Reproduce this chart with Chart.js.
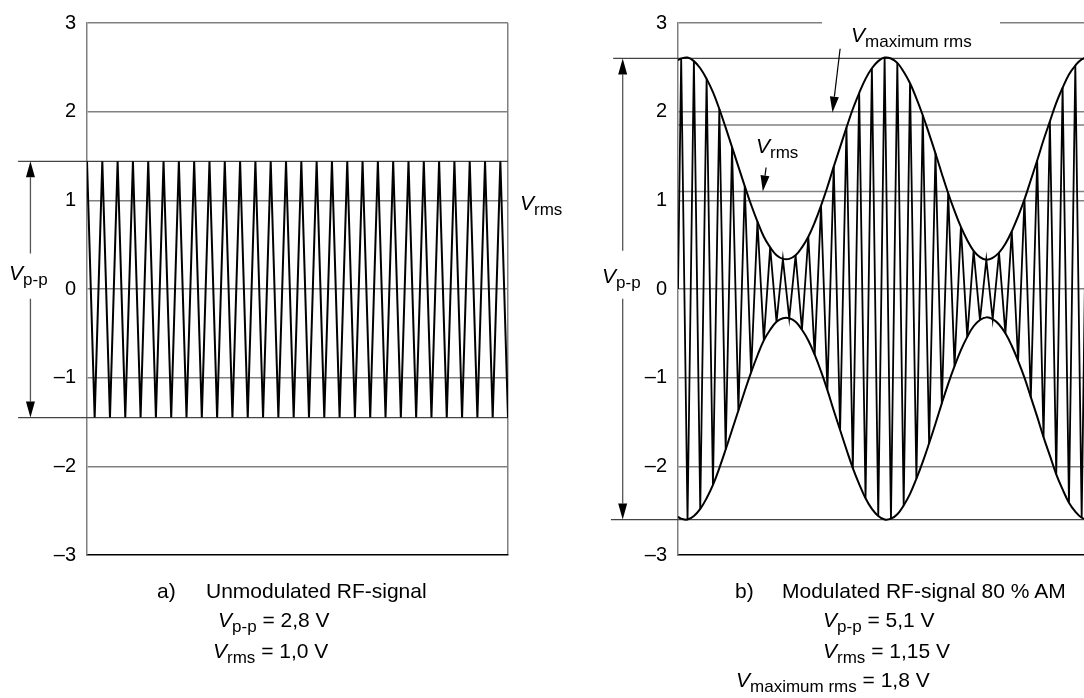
<!DOCTYPE html>
<html><head><meta charset="utf-8">
<script src="https://cdn.jsdelivr.net/npm/chart.js@4.4.1/dist/chart.umd.min.js"></script>
<style>
html,body{margin:0;padding:0;background:#fff;overflow:hidden;}
#wrap{position:relative;width:1084px;height:698px;overflow:hidden;font-family:"Liberation Sans",Arial,sans-serif;color:#000;background:#fff;}
canvas{position:absolute;top:0;}
#ca{left:0;width:540px;height:698px;}
#cb{left:540px;width:583px;height:698px;}
.t{position:absolute;font-size:21px;line-height:21px;white-space:nowrap;}
.t i{font-style:italic;}
.t sub{font-size:17px;vertical-align:-5px;line-height:0;}
#mask{position:absolute;left:822px;top:15px;width:178px;height:10px;background:#fff;}
</style></head>
<body><div id="wrap">
<canvas id="ca" width="540" height="698"></canvas>
<canvas id="cb" width="583" height="698"></canvas>
<div id="mask"></div>
<!-- chart a labels -->
<div class="t" style="left:520px;top:192px"><i>V</i><sub>rms</sub></div>
<div class="t" style="left:9px;top:262px"><i>V</i><sub>p-p</sub></div>
<div class="t" style="left:157px;top:580px">a)</div>
<div class="t" style="left:206px;top:580px">Unmodulated RF-signal</div>
<div class="t" style="left:218px;top:609px"><i>V</i><sub>p-p</sub> = 2,8 V</div>
<div class="t" style="left:213px;top:640px"><i>V</i><sub>rms</sub> = 1,0 V</div>
<!-- chart b labels -->
<div class="t" style="left:851px;top:24px"><i>V</i><sub>maximum rms</sub></div>
<div class="t" style="left:756px;top:135px"><i>V</i><sub>rms</sub></div>
<div class="t" style="left:602px;top:265px"><i>V</i><sub>p-p</sub></div>
<div class="t" style="left:735px;top:580px">b)</div>
<div class="t" style="left:782px;top:580px">Modulated RF-signal 80 % AM</div>
<div class="t" style="left:823px;top:609px"><i>V</i><sub>p-p</sub> = 5,1 V</div>
<div class="t" style="left:823px;top:640px"><i>V</i><sub>rms</sub> = 1,15 V</div>
<div class="t" style="left:736px;top:669px"><i>V</i><sub>maximum rms</sub> = 1,8 V</div>
</div>
<script>
// ---------- DATA ----------
const yTickValues = [3, 2, 1, 0, -1, -2, -3];

// a) unmodulated carrier: alternating peak / trough values, one per half period
const carrierA = [1.44,-1.45,1.44,-1.45,1.44,-1.45,1.44,-1.45,1.44,-1.45,
                  1.44,-1.45,1.44,-1.45,1.44,-1.45,1.44,-1.45,1.44,-1.45,
                  1.44,-1.45,1.44,-1.45,1.44,-1.45,1.44,-1.45,1.44,-1.45,
                  1.44,-1.45,1.44,-1.45,1.44,-1.45,1.44,-1.45,1.44,-1.45,
                  1.44,-1.45,1.44,-1.45,1.44,-1.45,1.44,-1.45,1.44,-1.45,
                  1.44,-1.45,1.44,-1.45,1.44,-1.45];
const peakA = 1.44, troughA = -1.45;

// b) modulated carrier (80 % AM)
const timesB = [0,0.5,1.5,2.5,3.5,4.5,5.5,6.5,7.5,8.5,9.5,
  10.5,11.5,12.5,13.5,14.5,15.5,16.5,17.5,18.5,19.5,
  20.5,21.5,22.5,23.5,24.5,25.5,26.5,27.5,28.5,29.5,
  30.5,31.5,32.5,33.5,34.5,35.5,36.5,37.5,38.5,39.5,
  40.5,41.5,42.5,43.5,44.5,45.5,46.5,47.5,48.5,49.5,
  50.5,51.5,52.5,53.5,54.5,55.5,56.5,57.5,58.5,59.5,
  60.5,61.5,62.5,63.5,64.5,65.5,66.5,67.5,68.5,69.5];
const carrierB = [0,
  2.60,-2.60,2.57,-2.48,2.37,-2.21,2.03,-1.81,1.60,-1.37,
  1.16,-0.94,0.76,-0.58,0.47,-0.37,0.34,-0.33,0.38,-0.46,
  0.59,-0.74,0.94,-1.14,1.38,-1.59,1.82,-2.02,2.21,-2.36,
  2.49,-2.56,2.61,-2.59,2.55,-2.44,2.32,-2.14,1.96,-1.74,
  1.53,-1.29,1.08,-0.87,0.70,-0.54,0.43,-0.35,0.33,-0.34,
  0.41,-0.50,0.65,-0.81,1.01,-1.22,1.45,-1.67,1.89,-2.09,
  2.27,-2.41,2.52,-2.58,2.61,-2.58,2.52,-2.40,2.27,-2.08];
const envTimesB = [0,0.5,1.5,2.5,3.5,4.5,5.5,6.5,7.5,8.5,9.5,
  10.5,11.5,12.5,13.5,14.5,15.5,16.5,17.5,18.5,19.5,
  20.5,21.5,22.5,23.5,24.5,25.5,26.5,27.5,28.5,29.5,
  30.5,31.5,32.5,33.5,34.5,35.5,36.5,37.5,38.5,39.5,
  40.5,41.5,42.5,43.5,44.5,45.5,46.5,47.5,48.5,49.5,
  50.5,51.5,52.5,53.5,54.5,55.5,56.5,57.5,58.5,59.5,
  60.5,61.5,62.5,63.5,64.5,65.5,66.5,67.5,68.5,69.5,70];
const envUpperB = [2.58,
  2.60,2.61,2.57,2.49,2.37,2.22,2.03,1.82,1.60,1.38,
  1.16,0.95,0.76,0.59,0.47,0.38,0.34,0.34,0.38,0.47,
  0.59,0.75,0.94,1.15,1.38,1.60,1.82,2.03,2.21,2.37,
  2.49,2.57,2.61,2.60,2.55,2.45,2.32,2.15,1.96,1.75,
  1.53,1.30,1.08,0.88,0.70,0.55,0.43,0.36,0.33,0.35,
  0.41,0.51,0.65,0.82,1.01,1.23,1.45,1.68,1.89,2.10,
  2.27,2.42,2.52,2.59,2.61,2.59,2.52,2.41,2.27,2.09,
  1.99];
const envLowerB = [-2.57,
  -2.59,-2.60,-2.56,-2.48,-2.36,-2.21,-2.02,-1.81,-1.59,-1.37,
  -1.15,-0.94,-0.75,-0.58,-0.46,-0.37,-0.33,-0.33,-0.37,-0.46,
  -0.58,-0.74,-0.93,-1.14,-1.37,-1.59,-1.81,-2.02,-2.20,-2.36,
  -2.48,-2.56,-2.60,-2.59,-2.54,-2.44,-2.31,-2.14,-1.95,-1.74,
  -1.52,-1.29,-1.07,-0.87,-0.69,-0.54,-0.42,-0.35,-0.32,-0.34,
  -0.40,-0.50,-0.64,-0.81,-1.00,-1.22,-1.44,-1.67,-1.88,-2.09,
  -2.26,-2.41,-2.51,-2.58,-2.60,-2.58,-2.51,-2.40,-2.26,-2.08,
  -1.98];
const peakB = 2.60, troughB = -2.60, rmsB = 1.10, maxRmsB = 1.85;

// reference-line start (time units, left of the plotted window) and arrows
const refStartA = -9.0;
const refStartB = [-10.2, -10.55];
const arrowsA = [
  {from:[-7.39, 0.40], to:[-7.39, peakA], color:'#555', width:1.3},
  {from:[-7.39,-0.11], to:[-7.39, troughA], color:'#555', width:1.3}
];
const arrowsB = [
  {from:[-8.7, 0.43], to:[-8.7, peakB], color:'#555', width:1.3},
  {from:[-8.7,-0.11], to:[-8.7, troughB], color:'#555', width:1.3},
  {from:[25.5, 2.71], to:[24.3, 1.99], color:'#000', width:1.2},
  {from:[13.86, 1.37], to:[13.34, rmsB], color:'#000', width:1.2}
];

// ---------- CHARTS ----------
const FONT = '"Liberation Sans", Arial, sans-serif';
const GRID = '#808080';

function arrowPlugin(items){
  return {
    id:'arrows',
    afterDatasetsDraw(chart){
      const {ctx, scales:{x, y}} = chart;
      items.forEach(a => {
        const x1 = x.getPixelForValue(a.from[0]), y1 = y.getPixelForValue(a.from[1]);
        const x2 = x.getPixelForValue(a.to[0]),   y2 = y.getPixelForValue(a.to[1]);
        const ang = Math.atan2(y2 - y1, x2 - x1), L = 16, W = 4.5;
        const bx = x2 - L*Math.cos(ang), by = y2 - L*Math.sin(ang);
        ctx.save();
        ctx.strokeStyle = a.color; ctx.lineWidth = a.width;
        ctx.beginPath(); ctx.moveTo(x1, y1); ctx.lineTo(bx, by); ctx.stroke();
        ctx.fillStyle = '#000';
        ctx.beginPath(); ctx.moveTo(x2, y2);
        ctx.lineTo(bx + W*Math.sin(ang), by - W*Math.cos(ang));
        ctx.lineTo(bx - W*Math.sin(ang), by + W*Math.cos(ang));
        ctx.closePath(); ctx.fill();
        ctx.restore();
      });
    }
  };
}

function hLine(y, x0, x1, color, width){
  return {data:[{x:x0, y:y},{x:x1, y:y}], borderColor:color, borderWidth:width,
          pointRadius:0, tension:0, clip:false, order:5};
}

function yScale(axisWidth, hideTop){
  return {
    type:'linear', min:-3, max:3,
    afterBuildTicks(s){ s.ticks = yTickValues.map(v => ({value:v})); },
    afterFit(s){ s.width = axisWidth; },
    ticks:{color:'#000', padding:11, font:{family:FONT, size:20},
           callback:v => v < 0 ? '\u2013' + (-v) : String(v)},
    grid:{drawTicks:false, lineWidth:1.5,
          color:c => (c.tick && c.tick.value === -3) ? 'rgba(0,0,0,0)' : GRID},
    border:{color:GRID, width:1.5}
  };
}

const baseOpts = {
  responsive:false, animation:false, devicePixelRatio:1,
  plugins:{legend:{display:false}, tooltip:{enabled:false}},
  events:[]
};

// chart a
const ptsA = carrierA.map((v, i) => ({x:i, y:v}));
new Chart(document.getElementById('ca'), {
  type:'line',
  data:{datasets:[
    {data:ptsA, borderColor:'#000', borderWidth:2, pointRadius:0, tension:0, order:1},
    hLine(peakA, refStartA, carrierA.length - 1, '#444', 1.3),
    hLine(troughA, refStartA, carrierA.length - 1, '#444', 1.3)
  ]},
  options:Object.assign({}, baseOpts, {
    layout:{padding:{left:0, right:32, top:22, bottom:143}},
    scales:{
      x:{type:'linear', min:0, max:carrierA.length - 1,
         afterBuildTicks(s){ s.ticks = [{value:carrierA.length - 1}]; },
         afterFit(s){ s.height = 0; },
         ticks:{display:false}, grid:{drawTicks:false, color:GRID, lineWidth:1.5},
         border:{color:'#000', width:1.5}},
      y:yScale(87)
    }
  }),
  plugins:[arrowPlugin(arrowsA)]
});

// chart b
const ptsB = carrierB.map((v, i) => ({x:timesB[i], y:v}));
const upB = envUpperB.map((v, i) => ({x:envTimesB[i], y:v}));
const loB = envLowerB.map((v, i) => ({x:envTimesB[i], y:v}));
const xMaxB = envTimesB[envTimesB.length - 1];
new Chart(document.getElementById('cb'), {
  type:'line',
  data:{datasets:[
    {data:ptsB, borderColor:'#000', borderWidth:1.8, pointRadius:0, tension:0, order:1},
    {data:upB, borderColor:'#000', borderWidth:2, pointRadius:0, tension:0.4, order:0},
    {data:loB, borderColor:'#000', borderWidth:2, pointRadius:0, tension:0.4, order:0},
    hLine(peakB, refStartB[0], xMaxB, '#444', 1.3),
    hLine(troughB, refStartB[1], xMaxB, '#444', 1.3),
    hLine(rmsB, 0, xMaxB, GRID, 1.5),
    hLine(maxRmsB, 0, xMaxB, GRID, 1.5)
  ]},
  options:Object.assign({}, baseOpts, {
    layout:{padding:{left:0, right:0, top:22, bottom:143}},
    scales:{
      x:{type:'linear', min:0, max:xMaxB,
         afterFit(s){ s.height = 0; },
         ticks:{display:false}, grid:{display:false, drawTicks:false},
         border:{color:'#000', width:1.5}},
      y:yScale(138)
    }
  }),
  plugins:[arrowPlugin(arrowsB)]
});
</script>
</body></html>
